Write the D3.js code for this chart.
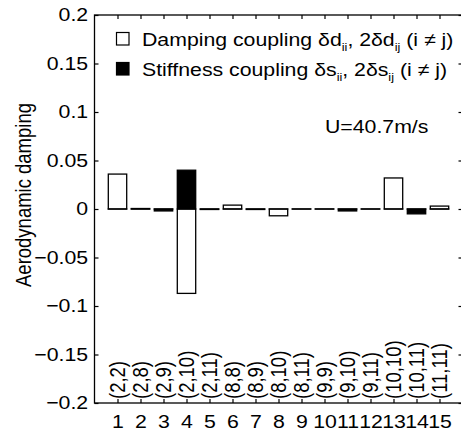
<!DOCTYPE html>
<html>
<head>
<meta charset="utf-8">
<script src="https://cdn.jsdelivr.net/npm/d3@7"></script>
<style>
  html, body { margin: 0; padding: 0; background: #fff; }
  svg { display: block; }
  text { font-family: "Liberation Sans", Arial, Helvetica, sans-serif; fill: #000; }
</style>
</head>
<body>
<div id="chart"></div>
<script>
// Mode-pair contributions to aerodynamic damping at U = 40.7 m/s
const categories = [1, 2, 3, 4, 5, 6, 7, 8, 9, 10, 11, 12, 13, 14, 15];
const pairLabels = ["(2,2)", "(2,8)", "(2,9)", "(2,10)", "(2,11)", "(8,8)", "(8,9)", "(8,10)",
                    "(8,11)", "(9,9)", "(9,10)", "(9,11)", "(10,10)", "(10,11)", "(11,11)"];
// damping-coupling terms (white bars)
const dampingValues = [0.036, 0.0005, 0, -0.087, -0.0005, 0.004, -0.0005, -0.007,
                       0, 0, 0, 0, 0.032, 0, 0.003];
// stiffness-coupling terms (black bars)
const stiffnessValues = [0, 0, -0.002, 0.040, 0, 0, 0, 0,
                         0, 0, -0.002, 0, 0, -0.005, 0];
const yTicks = [-0.2, -0.15, -0.1, -0.05, 0, 0.05, 0.1, 0.15, 0.2];
const yTickLabels = ["\u22120.2", "\u22120.15", "\u22120.1", "\u22120.05", "0", "0.05", "0.1", "0.15", "0.2"];

const W = 461, H = 432;
const plotL = 94.5, plotR = 462.5, plotT = 15, plotB = 403;
const sx = 1.15;          // horizontal widening of the lettering
const fs = 18.5;
const tickLen = 4;

const svg = d3.select("#chart").append("svg")
  .attr("width", W).attr("height", H);

const x = d3.scaleLinear().domain([0, 16]).range([plotL, plotR]);
const y = d3.scaleLinear().domain([-0.2, 0.2]).range([plotB, plotT]);
const barW = 0.8 * (x(1) - x(0));

// bars
function drawBars(values, fill) {
  svg.append("g").selectAll("rect")
    .data(categories.map((c, i) => ({ c, v: values[i] })))
    .join("rect")
    .attr("x", d => x(d.c) - barW / 2)
    .attr("width", barW)
    .attr("y", d => Math.min(y(d.v), y(0)))
    .attr("height", d => Math.max(Math.abs(y(d.v) - y(0)), 0.01))
    .attr("fill", fill)
    .attr("stroke", "#000")
    .attr("stroke-width", 1.3);
}
drawBars(dampingValues, "#fff");
drawBars(stiffnessValues, "#000");

// frame and inward ticks on all four sides
const axisL = d3.axisLeft(y).tickValues(yTicks).tickSize(-tickLen).tickPadding(5.5)
  .tickFormat((d, i) => yTickLabels[i]);
const axisR = d3.axisRight(y).tickValues(yTicks).tickSize(-tickLen).tickFormat("");
const axisB = d3.axisBottom(x).tickValues(categories).tickSize(-tickLen).tickPadding(12)
  .tickFormat(d => String(d));
const axisT = d3.axisTop(x).tickValues(categories).tickSize(-tickLen).tickFormat("");

function styleAxis(g) {
  g.select(".domain").remove();
  g.selectAll(".tick line").attr("stroke", "#000").attr("stroke-width", 1.2);
  g.selectAll(".tick text")
    .style("font-size", fs + "px")
    .style("font-family", "'Liberation Sans', Arial, sans-serif")
    .attr("transform", `scale(${sx},1)`);
}
svg.append("g").attr("transform", `translate(${plotL},0)`).call(axisL).call(styleAxis);
svg.append("g").attr("transform", `translate(${plotR},0)`).call(axisR).call(styleAxis);
svg.append("g").attr("transform", `translate(0,${plotB})`).call(axisB).call(styleAxis)
  .selectAll(".tick text").attr("dy", "0.71em");
svg.append("g").attr("transform", `translate(0,${plotT})`).call(axisT).call(styleAxis);

svg.append("rect")
  .attr("x", plotL).attr("y", plotT)
  .attr("width", plotR - plotL).attr("height", plotB - plotT)
  .attr("fill", "none").attr("stroke", "#000").attr("stroke-width", 1.3);

// mode-pair labels, written upward from the bottom axis
svg.append("g").selectAll("text")
  .data(categories.map((c, i) => ({ c, t: pairLabels[i] })))
  .join("text")
  .attr("transform", d => `translate(${x(d.c) + 7},${plotB - 4}) rotate(-90) scale(1,${sx})`)
  .attr("text-anchor", "start")
  .style("font-size", fs + "px")
  .text(d => d.t);

// y-axis title
svg.append("text")
  .attr("transform", `translate(31,${(plotT + plotB) / 2 - 14}) rotate(-90) scale(1,${sx})`)
  .attr("text-anchor", "middle")
  .style("font-size", fs + "px")
  .text("Aerodynamic damping");

// legend
const legend = svg.append("g");
const rows = [
  { fill: "#fff", name: "Damping coupling ", sym: "d", y: 46 },
  { fill: "#000", name: "Stiffness coupling ", sym: "s", y: 76 }
];
rows.forEach(r => {
  legend.append("rect")
    .attr("x", 116.5).attr("y", r.y - 13.5)
    .attr("width", 12.5).attr("height", 12.5)
    .attr("fill", r.fill).attr("stroke", "#000").attr("stroke-width", 1.2);
  const t = legend.append("text")
    .attr("transform", `translate(142,${r.y}) scale(${sx},1)`)
    .style("font-size", fs + "px");
  t.append("tspan").text(r.name + "\u03b4" + r.sym);
  t.append("tspan").attr("dy", 5).style("font-size", "11px").text("ii");
  t.append("tspan").attr("dy", -5).text(", 2\u03b4" + r.sym);
  t.append("tspan").attr("dy", 5).style("font-size", "11px").text("ij");
  t.append("tspan").attr("dy", -5).text(" (i \u2260 j)");
});

svg.append("text")
  .attr("transform", `translate(325,133) scale(${sx},1)`)
  .style("font-size", fs + "px")
  .text("U=40.7m/s");
</script>
</body>
</html>
